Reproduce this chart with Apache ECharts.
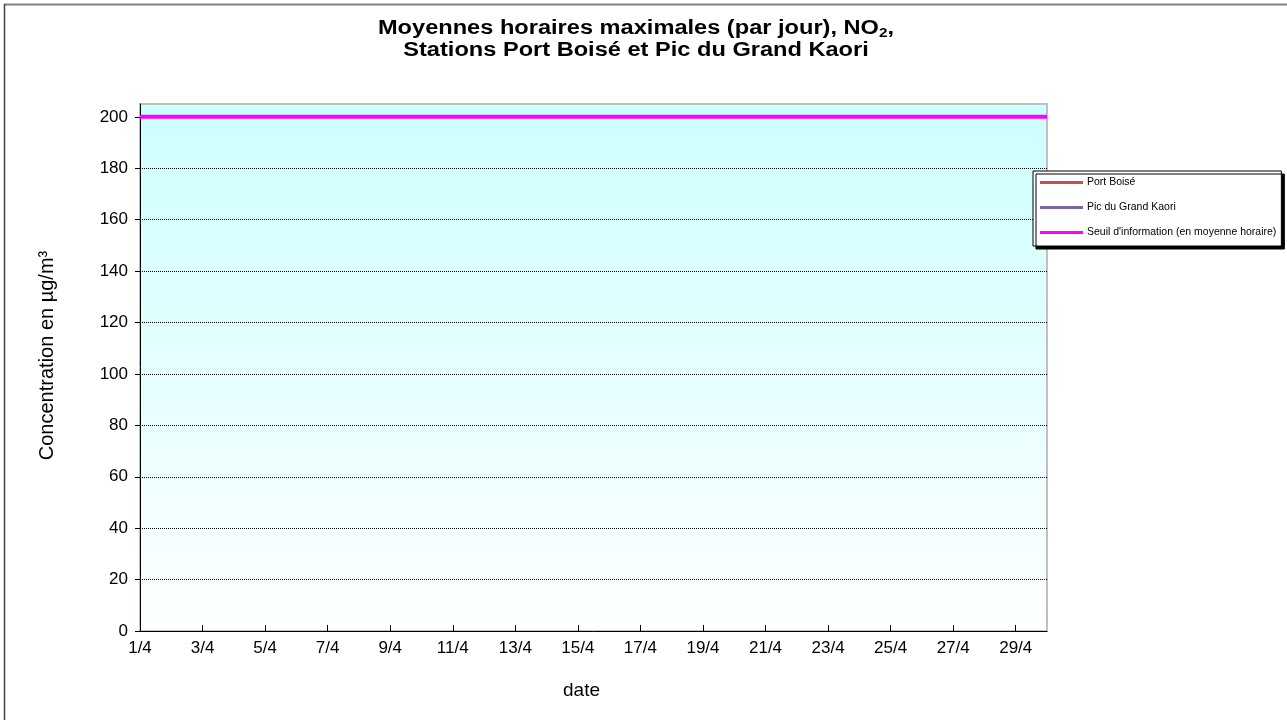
<!DOCTYPE html>
<html>
<head>
<meta charset="utf-8">
<script src="https://cdn.jsdelivr.net/npm/echarts@6/dist/echarts.min.js"></script>
<style>
  html, body { margin: 0; padding: 0; background: #fff; }
  #chart { width: 1287px; height: 720px; }
</style>
</head>
<body>
<div id="chart"></div>
<script>
const categories = ['1/4','2/4','3/4','4/4','5/4','6/4','7/4','8/4','9/4','10/4',
  '11/4','12/4','13/4','14/4','15/4','16/4','17/4','18/4','19/4','20/4',
  '21/4','22/4','23/4','24/4','25/4','26/4','27/4','28/4','29/4','30/4'];
const portBoise = [null,null,null,null,null,null,null,null,null,null,
  null,null,null,null,null,null,null,null,null,null,
  null,null,null,null,null,null,null,null,null,null];
const picGrandKaori = [null,null,null,null,null,null,null,null,null,null,
  null,null,null,null,null,null,null,null,null,null,
  null,null,null,null,null,null,null,null,null,null];
const seuilInformation = [200,200,200,200,200,200,200,200,200,200,
  200,200,200,200,200,200,200,200,200,200,
  200,200,200,200,200,200,200,200,200,200];
const yMin = 0, yMax = 205, yStep = 20;

const chart = echarts.init(document.getElementById('chart'), null, { renderer: 'canvas' });
const font = "'Liberation Sans', Arial, sans-serif";
const titleSize = 20;

chart.setOption({
  animation: false,
  backgroundColor: '#ffffff',
  textStyle: { fontFamily: font },
  graphic: [
    { type: 'line', shape: { x1: 4, y1: 4.5, x2: 1287, y2: 4.5 }, style: { stroke: '#808080', lineWidth: 2 } },
    { type: 'line', shape: { x1: 4.5, y1: 4, x2: 4.5, y2: 720 }, style: { stroke: '#404040', lineWidth: 1.5 } },
    {
      type: 'text', x: 636, y: 29, scaleX: 1.18,
      style: {
        text: '{b|Moyennes horaires maximales (par jour), NO}{s|2}{b|,}',
        align: 'center', verticalAlign: 'middle',
        rich: {
          b: { fontFamily: font, fontWeight: 'bold', fontSize: titleSize, fill: '#000', lineHeight: 22, verticalAlign: 'top' },
          s: { fontFamily: font, fontWeight: 'bold', fontSize: 13, fill: '#000', lineHeight: 13, verticalAlign: 'bottom', padding: [14, 0, 0, 0] }
        }
      }
    },
    {
      type: 'text', x: 636, y: 50, scaleX: 1.18,
      style: {
        text: 'Stations Port Boisé et Pic du Grand Kaori',
        align: 'center', verticalAlign: 'middle',
        font: 'bold ' + titleSize + 'px ' + font,
        fill: '#000'
      }
    }
  ],
  legend: {
    orient: 'vertical',
    left: 1033, top: 171,
    padding: [6, 5, 8, 7],
    itemGap: 14,
    itemWidth: 43, itemHeight: 3,
    icon: 'rect',
    backgroundColor: '#ffffff',
    borderColor: '#000', borderWidth: 1,
    shadowColor: '#000', shadowBlur: 0, shadowOffsetX: 3, shadowOffsetY: 3,
    textStyle: { fontFamily: font, fontSize: 10.5, color: '#000', lineHeight: 11, padding: [0, 0, 0, -1] },
    data: ['Port Boisé', 'Pic du Grand Kaori', "Seuil d'information (en moyenne horaire)"]
  },
  grid: {
    left: 140, right: 240, top: 104, bottom: 89,
    show: true,
    backgroundColor: {
      type: 'linear', x: 0, y: 0, x2: 0, y2: 1,
      colorStops: [{ offset: 0, color: '#ccffff' }, { offset: 1, color: '#ffffff' }]
    },
    borderColor: '#c0c0c0', borderWidth: 2
  },
  xAxis: {
    type: 'category',
    data: categories,
    boundaryGap: false,
    name: 'date',
    nameLocation: 'middle',
    nameGap: 50,
    nameTextStyle: { fontFamily: font, fontSize: 19, color: '#000', padding: [0, 24, 0, 0] },
    axisLine: { lineStyle: { color: '#000', width: 1 } },
    axisTick: { show: true, inside: true, length: 6, interval: 1, lineStyle: { color: '#000' } },
    axisLabel: { interval: 1, fontFamily: font, fontSize: 17, color: '#000', margin: 9 },
    splitLine: { show: false }
  },
  yAxis: {
    type: 'value',
    min: yMin, max: yMax, interval: yStep,
    name: 'Concentration en µg/m³',
    nameLocation: 'middle',
    nameGap: 83,
    nameRotate: 90,
    nameTextStyle: { fontFamily: font, fontSize: 20, color: '#000', padding: [0, 0, 0, 24] },
    axisLine: { show: true, lineStyle: { color: '#000', width: 1 } },
    axisTick: { show: true, inside: false, length: 5, lineStyle: { color: '#000' } },
    axisLabel: { fontFamily: font, fontSize: 17, color: '#000', margin: 12, showMaxLabel: false,
      formatter: function (v) { return v % yStep === 0 ? String(v) : ''; } },
    splitLine: { show: true, lineStyle: { type: [1, 1], width: 1,
      color: ['#000','#000','#000','#000','#000','#000','#000','#000','#000','#000','#000','#c0c0c0'] } }
  },
  series: [
    { name: 'Port Boisé', type: 'line', data: portBoise, symbol: 'none', color: '#c0504d', lineStyle: { width: 2.5, color: '#c0504d' } },
    { name: 'Pic du Grand Kaori', type: 'line', data: picGrandKaori, symbol: 'none', color: '#8064a2', lineStyle: { width: 2.5, color: '#8064a2' } },
    { name: "Seuil d'information (en moyenne horaire)", type: 'line', data: seuilInformation, symbol: 'none', color: '#ff00ff', lineStyle: { width: 4, color: '#ff00ff' }, z: 5 }
  ]
});
</script>
</body>
</html>
